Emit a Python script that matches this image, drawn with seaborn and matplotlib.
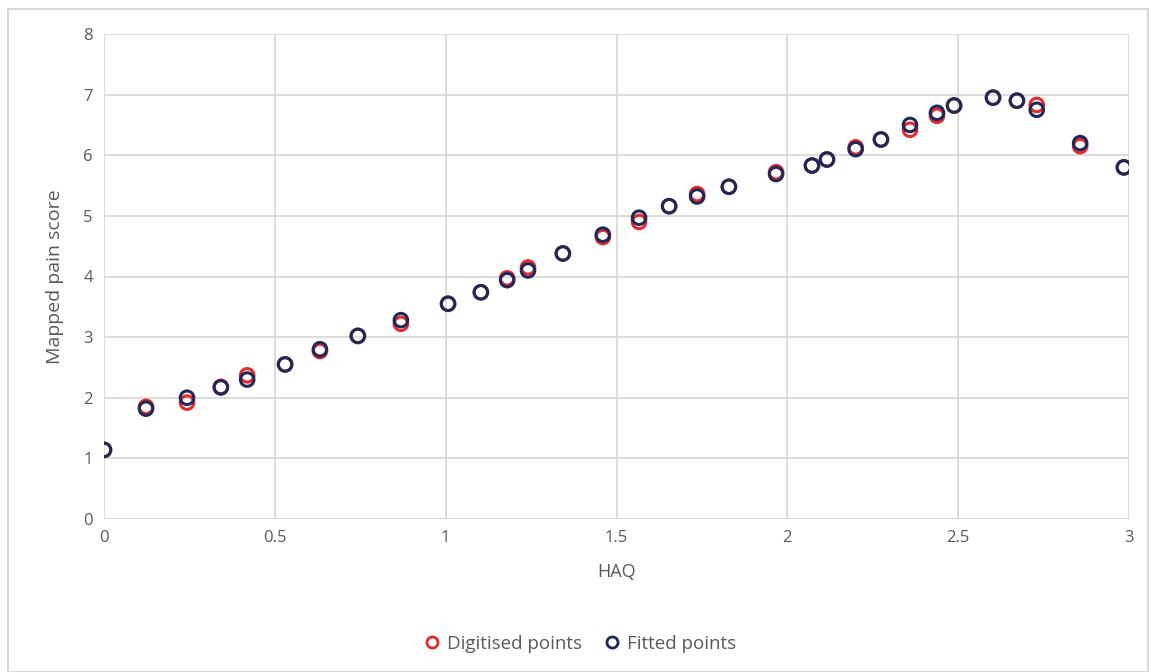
import pandas as pd
import matplotlib.pyplot as plt
import seaborn as sns
from matplotlib.patches import Rectangle
from matplotlib.lines import Line2D

# HAQ values
haq = [0.0, 0.123, 0.243, 0.342, 0.419, 0.53, 0.632, 0.743, 0.869, 1.007,
       1.103, 1.18, 1.241, 1.343, 1.46, 1.566, 1.654, 1.736, 1.829, 1.967,
       2.072, 2.116, 2.2, 2.274, 2.359, 2.438, 2.488, 2.602, 2.672, 2.73,
       2.857, 2.985]
digitised = [1.14, 1.85, 1.92, 2.18, 2.37, 2.55, 2.77, 3.02, 3.22, 3.55,
             3.74, 3.97, 4.15, 4.38, 4.65, 4.90, 5.16, 5.36, 5.48, 5.72,
             5.83, 5.93, 6.13, 6.26, 6.42, 6.65, 6.82, 6.95, 6.90, 6.83,
             6.15, 5.80]
fitted = [1.14, 1.82, 2.00, 2.17, 2.30, 2.55, 2.80, 3.02, 3.28, 3.55,
          3.74, 3.94, 4.10, 4.38, 4.69, 4.97, 5.16, 5.32, 5.48, 5.69,
          5.83, 5.93, 6.10, 6.26, 6.50, 6.70, 6.82, 6.95, 6.90, 6.75,
          6.20, 5.80]

red = '#e8282b'
navy = '#1f2858'
grid_c = '#d9d9d9'
text_c = '#595959'

df = pd.DataFrame({'HAQ': haq, 'Digitised': digitised, 'Fitted': fitted})

sns.set_style('white')
plt.rcParams['font.family'] = ['Open Sans', 'DejaVu Sans']

fig = plt.figure(figsize=(11.49, 6.72), dpi=100)
ax = fig.add_axes([104 / 1149, 1 - 519 / 672, 1025 / 1149, 485 / 672])

sns.scatterplot(data=df, x='HAQ', y='Digitised', ax=ax, marker='o', s=95,
                facecolor='none', edgecolor=red, linewidth=2.2, zorder=3)
sns.scatterplot(data=df, x='HAQ', y='Fitted', ax=ax, marker='o', s=95,
                facecolor='none', edgecolor=navy, linewidth=2.2, zorder=4)

ax.set_xlim(0, 3)
ax.set_ylim(0, 8)
ax.set_xticks([0, 0.5, 1, 1.5, 2, 2.5, 3])
ax.set_xticklabels(['0', '0.5', '1', '1.5', '2', '2.5', '3'])
ax.set_yticks(range(0, 9))
ax.grid(True, color=grid_c, linewidth=1.3)
ax.set_axisbelow(True)
for s in ax.spines.values():
    s.set_visible(False)
ax.tick_params(length=0, colors=text_c, labelsize=12, pad=8)
ax.set_xlabel('HAQ', color=text_c, fontsize=13, labelpad=12)
ax.set_ylabel('Mapped pain score', color=text_c, fontsize=14, labelpad=14)

handles = [Line2D([], [], marker='o', linestyle='none', markersize=8,
                  markerfacecolor='none', markeredgecolor=red, markeredgewidth=2),
           Line2D([], [], marker='o', linestyle='none', markersize=8,
                  markerfacecolor='none', markeredgecolor=navy, markeredgewidth=2)]
fig.legend(handles, ['Digitised points', 'Fitted points'], loc='center',
           bbox_to_anchor=(0.5, 1 - 644 / 672), ncol=2, frameon=False,
           fontsize=13.5, labelcolor=text_c, handletextpad=-0.2,
           columnspacing=0.6)

fig.patches.append(Rectangle((8 / 1149, 0), 1 - 9 / 1149, 1 - 9 / 672,
                             transform=fig.transFigure, fill=False,
                             edgecolor=grid_c, linewidth=1.5))

fig.savefig('out.png', dpi=100)
